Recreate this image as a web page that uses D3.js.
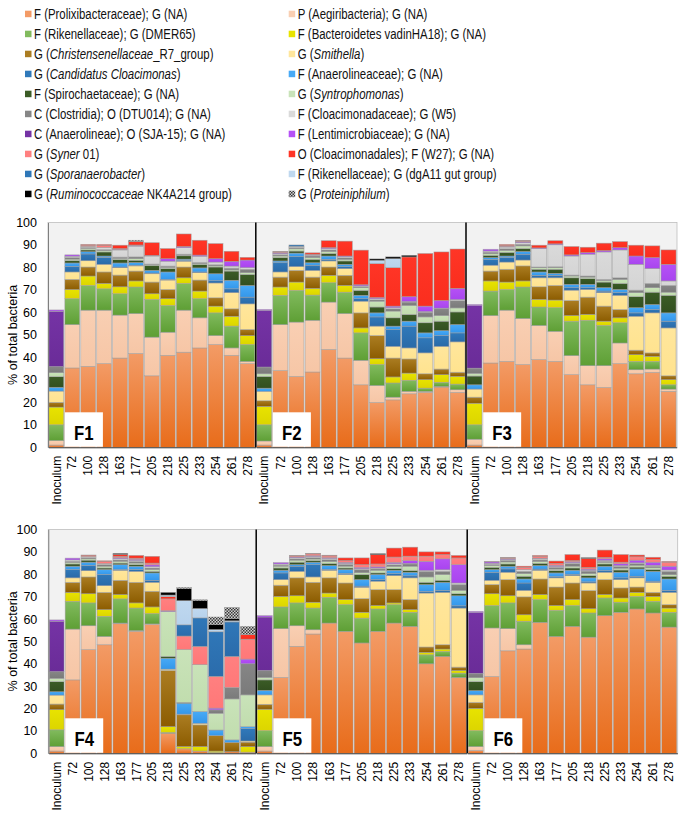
<!DOCTYPE html>
<html><head><meta charset="utf-8">
<script src="https://cdn.jsdelivr.net/npm/d3@7"></script>
<style>
body{margin:0;background:#fff;}
svg{display:block;font-family:"Liberation Sans",Arial,sans-serif;}
</style>
</head><body>
<svg id="chart" width="685" height="814"></svg>
<script>
// ---------------- DATA ----------------
const categories = ["Inoculum","72","100","128","163","177","205","218","225","233","254","261","278"];
const panelLabels = ["F1","F2","F3","F4","F5","F6"];
const yTicks = [0,10,20,30,40,50,60,70,80,90,100];
const seriesNames = [
  "F (Prolixibacteraceae); G (NA)",
  "P (Aegiribacteria); G (NA)",
  "F (Rikenellaceae); G (DMER65)",
  "F (Bacteroidetes vadinHA18); G (NA)",
  "G (*Christensenellaceae*_R7_group)",
  "G (*Smithella*)",
  "G (*Candidatus Cloacimonas*)",
  "F (Anaerolineaceae); G (NA)",
  "F (Spirochaetaceae); G (NA)",
  "G (*Syntrophomonas*)",
  "C (Clostridia); O (DTU014); G (NA)",
  "F (Cloacimonadaceae); G (W5)",
  "C (Anaerolineae); O (SJA-15); G (NA)",
  "F (Lentimicrobiaceae); G (NA)",
  "G (*Syner* 01)",
  "O (Cloacimonadales); F (W27); G (NA)",
  "G (*Sporanaerobacter*)",
  "F (Rikenellaceae); G (dgA11 gut group)",
  "G (*Ruminococcaceae* NK4A214 group)",
  "G (*Proteiniphilum*)"
];
// series order in each row: Prolix, Aegiri, DMER65, vadinHA18, Christensenellaceae, Smithella,
// Cand.Cloacimonas, Anaerolineaceae, Spirochaetaceae, Syntrophomonas, DTU014, W5, SJA-15,
// Lentimicrobiaceae, Syner01, W27, Sporanaerobacter, dgA11, Ruminococcaceae, Proteiniphilum
const F1 = [
  [1,2,7,7.9,2.1,5,0,1.7,4.7,1.8,2.7,0,24.6,0.6,0,0,0,0,0,0],
  [35.3,19.3,11.5,4.1,4.5,3.3,2.5,1.5,1,0.7,0.7,0.6,0,0.6,0,0,0,0,0,0],
  [36,25,11,4.2,4,2.8,3,1,0.8,0.7,0.4,0.5,0,0,0.5,0.3,0,0,0,0],
  [37.2,23.8,9.5,2.4,5.1,3.4,3.1,0.6,1.8,0.6,0.4,1,0,0,0.9,0.4,0,0,0,0],
  [39.7,19.1,9.5,3.1,5.2,3.3,0.3,1.8,1.5,0.5,0.6,3.2,0,0.3,0.3,1.5,0,0,0,0],
  [41.7,17.8,11.8,2.7,4.4,2.3,0.3,1.2,1,0.7,0.8,4.8,0,0.3,0.2,1.5,0,0,0,0.6],
  [31.8,17.2,16.8,2.5,5.2,3.7,0.3,1.2,2.2,0.3,0.3,3.6,0,0.3,0,5.6,0,0,0,0],
  [40.9,10.3,11.9,3,4.1,4.2,0.3,3.3,1.5,0.5,0.6,2.2,0,1.1,0,4.5,0,0,0,0],
  [42.3,18.7,11.9,2.5,4.8,2.6,0.3,0.6,1.5,0.3,0.4,2.9,0,0.5,0,5.6,0,0,0,0],
  [44.2,13.4,8.5,3.4,4.9,3.3,0.3,1.8,1.5,0.4,0.5,2.8,0,0.5,0,6.6,0,0,0,0],
  [45.7,4,10.1,3,3.7,6.6,1,3.1,3,0.5,0.5,1.2,0,1.5,0,6.7,0,0,0,0],
  [40.9,3.3,9.7,4.4,3.3,7.2,1.7,3.8,4.1,0.5,0.8,0.9,0,2.1,0,4.5,0,0,0,0],
  [37.2,1,7.5,4,2.7,11.4,3,5.2,4.9,0.8,1.5,0.7,0,3.4,0,1.2,0,0,0,0]
];
const F2 = [
  [1,1.8,7.2,8.2,2.5,4.2,0,1.4,5.2,1.2,3,0,25.2,0.4,0,0,0,0,0,0],
  [34.1,20.5,13,3.7,4.4,2.3,4.1,0.8,1.5,0.7,0.5,0.5,0,0.4,0.4,0.2,0,0,0,0],
  [31.5,24.2,14.1,3.7,5.2,1.7,4.5,1.5,0.9,1,0.5,0.6,0,0,0,0,0.6,0,0,0],
  [33.5,23,11.2,3,5,3,2.3,1.1,1.5,0.8,0.7,0.4,0,0.2,0.2,0.6,0,0,0,0],
  [43.5,21.1,8.6,3.3,3.7,2.7,0.7,1.5,1.1,0.9,0.7,0.6,0,0.4,0,3.1,0,0,0,0],
  [39.7,19.8,9.5,3,4.5,3,0.9,1,1.5,0.7,0.7,0.5,0,0.3,0,6.6,0,0,0,0],
  [27.8,10.9,12.2,2.2,6.7,5.2,1.1,1.5,2.2,1.2,0.5,0.3,0,0.5,0,15.4,0,0,0,0],
  [19.9,7.6,9.3,2.6,10.3,4.2,4.1,1.8,2.6,2.6,0.6,0.5,0,0.5,0,15.1,0,1.5,0.6,0],
  [21.1,1.2,6.3,2.7,8.4,5.2,7.5,1.5,3.7,3,1,0.5,0,0.7,0,17.1,0,4,0.8,0],
  [23.8,1.1,4.9,3.2,6.3,4.9,9.7,2.2,3,4,1.5,0.3,0,2.1,0,17.7,0,0,0.7,0],
  [24.4,0.5,1.4,3.8,2.6,9.3,6.7,2.2,4.5,2.6,2.1,0.3,0,2.4,0,23.4,0,0,0,0],
  [26.8,0.3,1.8,3.4,2.5,10.1,4.8,2.2,4.2,2.5,3,0.3,0,3.4,0,21.6,0,0,0,0],
  [24.4,1.2,2.5,3.5,1.8,13.5,4,3.7,5.6,1.8,3.2,0.5,0,5,0,17.5,0,0,0,0]
];
const F3 = [
  [1,2.6,6.4,9.6,2.7,3.6,0,1.9,3.9,1.2,2.3,0,27.8,0.5,0,0,0,0,0,0],
  [37.5,21.1,10.9,4.5,4.4,2.6,2.6,0.8,1,0.7,0.7,0.5,0,0.8,0,0,0,0,0,0],
  [38.2,22.8,9.2,3.3,5.7,3.2,2,0.7,1.6,0.9,0.7,0.8,0,0.3,0.4,0.4,0,0,0,0],
  [36.8,20.5,14,2.7,6.7,2.6,2.6,1.2,1.3,1.2,0.7,0.7,0,0.4,0.4,0.2,0,0,0,0],
  [39,15.2,8.2,3.4,5.6,4,1.1,1.5,1.2,0.7,0.3,8.2,0,0.3,0,1.2,0,0,0,0],
  [38.2,13.4,10.5,3.4,6.5,3.4,1.1,0.9,1.8,0.7,0.4,9.8,0,0.4,0,1.4,0,0,0,0],
  [32.3,8.5,15.3,2.5,6.7,4.6,1.1,1.5,2.9,0.8,0.4,8.5,0,0.5,0,3.7,0,0,0,0],
  [27.8,8.5,20.2,2.6,7.7,3.4,0.8,1.5,2.5,0.7,0.5,9.7,0,0.7,0,2.4,0,0,0,0],
  [26.6,9.7,17.9,1.9,6.7,6,0.7,1.5,2.5,0.7,0.5,12.2,0,0.6,0,3.3,0,0,0,0],
  [37.2,9.2,9,2.2,3.7,6.3,1.2,1.4,2.7,1.8,0.7,12.4,0,1,0,2.7,0,0,0,0],
  [32.7,1.8,3.7,3,2,15.1,1.5,2.3,4.9,1.8,1.1,11.5,0,3.7,0,4.8,0,0,0,0],
  [33.3,1.5,3.4,2.3,1.5,17.8,1.5,2.2,5.5,2,1.9,6.6,0,4.9,0,5.2,0,0,0,0],
  [24.9,1,1.9,2.3,1.7,21.3,3,3.7,7.8,1.4,3,2,0,7.4,0,6.4,0,0,0,0]
];
const F4 = [
  [1,2,7.5,9,2.5,4,0,1.5,4.5,1.5,3,0,22.5,0.6,0,0,0,0,0,0],
  [32.8,22.7,12.4,4,4.5,2,3.7,1.5,1,0.7,0.5,0.6,0,0.8,0,0,0,0,0,0],
  [46.3,10.7,10.2,4.1,7.5,2.8,2.3,1.5,0.9,0.6,0.5,0.5,0,0,0.5,0.2,0,0,0,0],
  [48.5,3.7,9,3,7.7,3,5,2.2,0.7,0.8,0.7,0.5,0,0,1,0.2,0,0,0,0],
  [57.9,0.3,10.8,1.9,6.4,4.5,0.3,2.2,0.7,0.8,0.6,0.6,0,0.4,0.6,0.9,0,0,0.4,0],
  [54.5,0.3,10.1,2.3,9.2,4.9,0.8,1.5,0.7,0.7,0.7,0.5,0,0.5,0.5,1.2,0,0,0,0],
  [57.5,0.3,4.6,3,7,4,0.9,3.3,0.7,0.8,0.7,0.6,0,0.8,0.8,3,0,0,0,0],
  [9,0,0.3,2.6,25.1,0.6,0,4.9,0.8,20.1,0,0,0,0.3,5.3,1,0,0.7,1.2,0],
  [2,0,0,1,14.2,0.3,0,4.9,0.3,23.7,0,0,0,0,6,0,5,10.8,5.4,0.5],
  [1,0,0,2,9.7,0.7,0,5.3,0,20.9,0,0,0,0,8.2,0,12.7,4.2,3.6,0.3],
  [0.3,0,0,0.7,6.9,0,0,2.5,0,7.5,1.5,0,0,0.8,14.2,0,19.9,1,2.2,3.4],
  [0.7,0,0,0,4.2,0,0,1.1,0,18.3,5.1,0,0,0,13.9,0,15.4,0.5,1,5],
  [0.5,0,0,2.5,2,0.5,5.5,0.9,0,14.2,13.9,0,0,2.1,8.9,2,0,0,0,3.7]
];
const F5 = [
  [1,2,7.1,9.6,2.2,4.2,0,2,4.7,1.1,3.1,0,23.9,0.6,0,0,0,0,0,0],
  [33.9,21.8,9.7,4.7,5,2.5,3,1.2,1,0.8,0.5,0.5,0,0.6,0,0,0,0,0,0],
  [47.8,9.2,10.2,3.2,8,2.9,2.3,0.7,1.1,0.9,0.6,0.5,0,0.3,0.5,0.2,0,0,0,0],
  [53.3,1.9,9.7,2.6,8.9,2.4,5.5,1.1,0.7,0.7,0.6,0.6,0,0.3,0.8,0.2,0,0,0,0],
  [58.2,0,11.5,1.9,6.8,3.4,0.4,1.7,0.9,0.9,0.8,0.6,0,0.3,0.8,0.3,0,0,0,0],
  [54.5,0,11.9,2.3,7.4,3.8,0.5,1.7,0.7,0.8,0.8,0.5,0,0.4,0.8,1.2,0,0,0,0],
  [49.3,0,11.1,2.6,6.1,5.1,0.5,2.9,2.3,0.8,1.4,0.4,0,0.6,1.2,3,0,0,0,0],
  [54.5,0,10,1.5,7.1,3.8,0.7,2.3,0.7,1.2,0.6,0.4,0,0.5,1.3,4.2,0,0,0.4,0],
  [58.2,0,8.2,0.8,5.9,6.3,0.9,1.5,0.7,1,0.7,0.5,0,0.6,2.4,4,0,0,0,0],
  [56.7,0,6.3,1.2,4.5,9.7,0.9,1.6,0.7,2,1,0.3,0,1.2,2,4,0,0,0,0],
  [40,0,4,1.1,2.4,24.1,0.7,3.1,1,2.4,2.5,0.4,0,4.1,2.3,1.9,0,0,0,0],
  [43.3,0,2.2,1.1,1.9,23.4,0.9,3.6,0.9,2.6,1.4,0.7,0,4.9,1.9,1.2,0,0,0,0],
  [33.9,0,1.9,1.2,1.5,26.4,1,4.5,0.9,1.5,2.6,0.7,0,8.2,3,1.1,0,0,0,0]
];
const F6 = [
  [1.2,1.8,7.1,10,2.6,3.4,0,1.9,4,1.8,1.9,0,27.2,0.5,0,0,0,0,0,0],
  [34.3,21.7,10,5.3,4.1,1.9,3.6,1.2,1,0.8,0.5,0.5,0,0.6,0.2,0,0,0,0,0],
  [45.8,9.9,11.5,3.2,7.2,3.3,1.5,1.2,1,0.9,0.7,0.4,0,0.3,0.4,0.2,0,0,0,0],
  [46.6,1.9,10.5,2.9,8,2.9,3.3,1.8,1.2,1.2,1,0.8,0,0,1,0.5,0,0,0,0],
  [58.5,0,10.2,2.2,7,3.9,0.5,1.6,1,0.8,0.7,0.5,0,0.3,0.8,0.4,0,0,0,0],
  [52.2,0,11.7,2.1,8.3,4.1,0.5,1.7,1,0.7,0.8,0.4,0,0.5,0.8,1.1,0,0,0,0],
  [56.7,0,9.3,2.7,7.4,3.3,0.6,1.8,1,0.8,1.2,0.4,0,0.4,0.5,2.7,0,0,0,0],
  [51.9,0,10.8,1.9,8.1,3.4,0.5,1.8,1,0.9,1.1,0.4,0,0.5,0.7,4.1,0,0,0.3,0],
  [61.5,0,7.9,1.5,6.7,3.3,0.7,2,1,0.7,0.5,0.4,0,0.7,0.6,3.3,0,0,0,0],
  [63,0,4.5,1.9,4.5,3.7,0.8,2.5,1,0.8,0.8,0.4,0,0.8,0.7,3.4,0,0,0,0],
  [64.5,0,5.6,1.8,2.4,4.1,0.7,3.3,0.8,0.8,0.7,0.4,0,1.2,1.5,0.8,0,0,0,0],
  [62.7,0,5.2,2.2,1.8,4.5,0.5,4.4,0.8,0.8,0.7,0.4,0,1.4,1.2,1,0,0,0,0],
  [56.4,0,6.6,1.9,1.5,5.5,0.9,5.1,1.2,0.7,1.5,0.6,0,1.7,1.8,0.3,0,0,0,0]
];
const panelData = [F1,F2,F3,F4,F5,F6];

// ---------------- STYLE ----------------
const colorTop = ["#F39B66","#F9CFB3","#82BB5E","#E8E300","#AB7D22","#FFE69C","#3079BA","#48AAF6","#3B5C26","#C9E3B9","#868686","#DADADA","#7533A5","#B551F6","#FF8080","#FF3526","#2F77B8","#BFD8EF","#000000","#888888"];
const colorBot = ["#E86C1A","#F6C6A6","#5E9F35","#DCD500","#8C5C00","#FFE38F","#2A6AA8","#3497EA","#324F1F","#C1DDAE","#7A7A7A","#D4D4D4","#6A2C98","#A845EE","#FF7878","#FA2E1E","#2B6CAB","#B7D2EC","#000000","#888888"];

const svg = d3.select("#chart");
const defs = svg.append("defs");
colorTop.forEach((c,i)=>{
  const g = defs.append("linearGradient").attr("id","grad"+i)
    .attr("x1",0).attr("y1",0).attr("x2",0).attr("y2",1);
  g.append("stop").attr("offset","0%").attr("stop-color",c);
  g.append("stop").attr("offset","100%").attr("stop-color",colorBot[i]);
});
const pat = defs.append("pattern").attr("id","checker").attr("patternUnits","userSpaceOnUse")
  .attr("width",3).attr("height",3);
pat.append("rect").attr("width",3).attr("height",3).attr("fill","#d0d0d0");
pat.append("rect").attr("width",1.5).attr("height",1.5).attr("fill","#3a3a3a");
pat.append("rect").attr("x",1.5).attr("y",1.5).attr("width",1.5).attr("height",1.5).attr("fill","#3a3a3a");
const fillFor = i => i===19 ? "url(#checker)" : "url(#grad"+i+")";
const legendFill = i => i===19 ? "url(#checker)" : colorTop[i];

function addRichText(sel, str){
  str.split("*").forEach((part,k)=>{
    if(part==="") return;
    sel.append("tspan").attr("font-style", k%2===1 ? "italic" : "normal").text(part);
  });
}

// ---------------- LEGEND ----------------
const legend = svg.append("g");
seriesNames.forEach((name,i)=>{
  const col = i%2, row = Math.floor(i/2);
  const mx = col===0 ? 25 : 288.7;
  const by = 19.3 + row*20;
  legend.append("rect").attr("x",mx).attr("y",by-8.6).attr("width",6.5).attr("height",6.5)
    .attr("fill",legendFill(i));
  const t = legend.append("g").attr("transform",`translate(${mx+9},${by}) scale(0.815,1)`)
    .append("text").attr("font-size",14).attr("fill","#111");
  addRichText(t,name);
});

// ---------------- PANELS ----------------
const rows = [
  {top:222.5, bottom:447.3, edges:[48,255.8,466,677]},
  {top:529.5, bottom:753.3, edges:[48.3,256.2,467.2,677.7]}
];
const stack = d3.stack().keys(d3.range(20));

rows.forEach((r,ri)=>{
  const y = d3.scaleLinear().domain([0,100]).range([r.bottom,r.top]);
  const g = svg.append("g");
  // plot background
  g.append("rect").attr("x",r.edges[0]).attr("y",r.top).attr("width",r.edges[3]-r.edges[0])
    .attr("height",r.bottom-r.top).attr("fill","#F2F2F2").attr("stroke","#BDBDBD").attr("stroke-width",0.8);

  for(let p=0;p<3;p++){
    const pi = ri*3+p;
    const x = d3.scaleBand().domain(categories).range([r.edges[p]+0.3, r.edges[p+1]-0.3])
      .paddingInner(0.07).paddingOuter(0.04);
    const layers = stack(panelData[pi]);
    const pg = g.append("g");
    layers.forEach((layer,li)=>{
      pg.selectAll(null).data(layer.map((d,j)=>({d,j}))).enter()
        .filter(o=>o.d[1]-o.d[0]>0)
        .append("rect")
        .attr("x",o=>x(categories[o.j]))
        .attr("width",x.bandwidth())
        .attr("y",o=>y(o.d[1]))
        .attr("height",o=>y(o.d[0])-y(o.d[1]))
        .attr("fill",fillFor(li))
        .attr("stroke","#9E9E9E").attr("stroke-width",0.6).attr("stroke-opacity",0.85);
    });
    // x axis
    const xa = g.append("g").attr("transform",`translate(0,${r.bottom})`)
      .call(d3.axisBottom(x).tickSize(0).tickPadding(0));
    xa.select(".domain").attr("stroke","#404040").attr("stroke-width",1);
    xa.selectAll("text").attr("transform","rotate(-90)").attr("x",-8.5).attr("y",0)
      .attr("dy","0.35em").style("text-anchor","end").attr("font-size",12)
      .attr("font-family",'"Liberation Sans",Arial,sans-serif').attr("fill","#000");
    // panel label box
    const bx = r.edges[p] + x.step()*1.03 + 0.5;
    g.append("rect").attr("x",bx).attr("y",r.bottom-35).attr("width",38).attr("height",34.5)
      .attr("fill","#fff");
    g.append("g").attr("transform",`translate(${bx+19},${r.bottom-7.5}) scale(0.8,1)`)
      .append("text").attr("text-anchor","middle").attr("font-size",21).attr("font-weight","bold")
      .attr("fill","#000").text(panelLabels[pi]);
  }
  // separators
  [1,2].forEach(k=>{
    g.append("line").attr("x1",r.edges[k]).attr("x2",r.edges[k]).attr("y1",r.top)
      .attr("y2",r.bottom).attr("stroke","#000").attr("stroke-width",1.5);
  });
  // y axis
  const ya = g.append("g").attr("transform",`translate(${r.edges[0]},0)`)
    .call(d3.axisLeft(y).tickValues(yTicks).tickSize(0).tickPadding(11));
  ya.select(".domain").attr("stroke","#7F7F7F").attr("stroke-width",1);
  ya.selectAll("text").attr("font-size",12.5).attr("fill","#000")
    .attr("font-family",'"Liberation Sans",Arial,sans-serif');
  // y title
  g.append("text").attr("transform",`translate(13,${(r.top+r.bottom)/2}) rotate(-90)`)
    .attr("text-anchor","middle").attr("dy","0.35em").attr("font-size",12.5).attr("fill","#000")
    .text("% of total bacteria");
});
</script>
</body></html>
